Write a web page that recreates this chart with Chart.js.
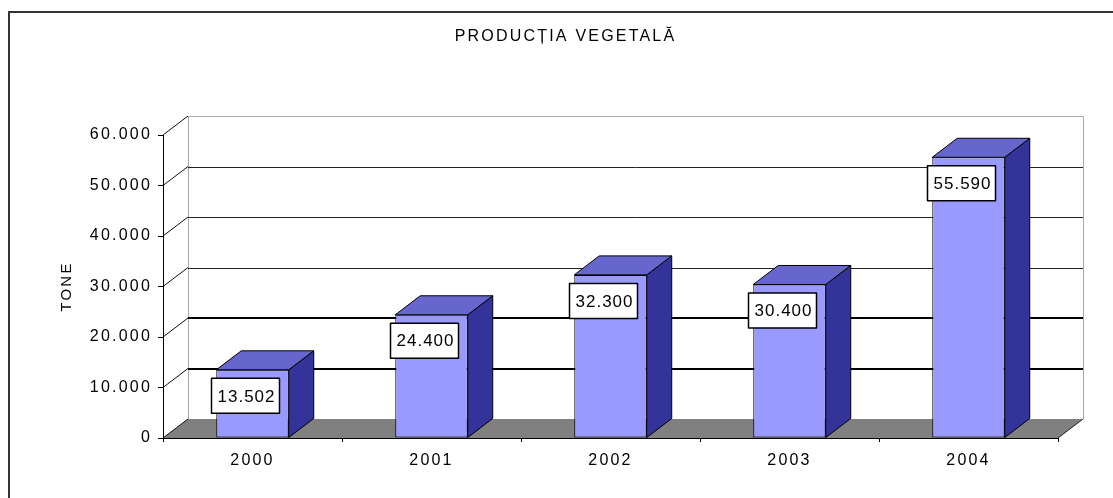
<!DOCTYPE html>
<html>
<head>
<meta charset="utf-8">
<script src="https://cdn.jsdelivr.net/npm/chart.js@4/dist/chart.umd.min.js"></script>
<style>
  html, body { margin: 0; padding: 0; background: #ffffff; }
  #wrap { width: 1113px; height: 498px; position: relative; }
</style>
</head>
<body>
<div id="wrap"><canvas id="c" width="1113" height="498"></canvas></div>
<script>
// ---- data ----
const categories = ['2000', '2001', '2002', '2003', '2004'];
const productie = [13502, 24400, 32300, 30400, 55590];
const yTicks = [0, 10000, 20000, 30000, 40000, 50000, 60000];
const chartTitle = 'PRODUCȚIA VEGETALĂ';
const yTitle = 'TONE';

// ---- style constants ----
const DX = 25, DY = -19;
const FRONT = '#9999FF', SIDE = '#333399', TOP = '#6666CC';
const FONT = "'Liberation Sans', Arial, sans-serif";

function fmt(n) {
  return String(n).replace(/\B(?=(\d{3})+(?!\d))/g, '.');
}

const spacingPlugin = {
  id: 'spacing',
  beforeDraw(chart) { chart.ctx.letterSpacing = '2.2px'; }
};

const backdropPlugin = {
  id: 'backdrop',
  beforeDraw(chart) {
    const ctx = chart.ctx;
    const { left, right } = chart.chartArea;
    const ys = chart.scales.y;
    const yTop = ys.getPixelForValue(yTicks[yTicks.length - 1]);
    const yBot = ys.getPixelForValue(0);
    ctx.save();
    ctx.fillStyle = '#ffffff';
    ctx.fillRect(0, 0, chart.width, chart.height);
    // outer frame
    ctx.strokeStyle = '#333333';
    ctx.lineWidth = 2;
    ctx.strokeRect(9, 12, chart.width + 20, chart.height + 20);
    // floor
    ctx.fillStyle = '#808080';
    ctx.beginPath();
    ctx.moveTo(left, yBot);
    ctx.lineTo(right, yBot);
    ctx.lineTo(right + DX, yBot + DY);
    ctx.lineTo(left + DX, yBot + DY);
    ctx.closePath();
    ctx.fill();
    ctx.strokeStyle = '#222';
    ctx.lineWidth = 1;
    ctx.beginPath();
    ctx.moveTo(right, yBot); ctx.lineTo(right + DX, yBot + DY);
    ctx.stroke();
    // wall edges
    ctx.strokeStyle = '#a8a8a8';
    ctx.lineWidth = 1;
    ctx.beginPath();
    ctx.moveTo(left + DX + 0.5, yBot + DY);
    ctx.lineTo(left + DX + 0.5, yTop + DY + 0.5);
    ctx.lineTo(right + DX + 0.5, yTop + DY + 0.5);
    ctx.lineTo(right + DX + 0.5, yBot + DY);
    ctx.stroke();
    // gridlines on back wall + connectors
    yTicks.forEach(v => {
      const y = ys.getPixelForValue(v);
      if (v > 0 && v < yTicks[yTicks.length - 1]) {
        const thick = v <= 20000;
        ctx.strokeStyle = thick ? '#000000' : '#222222';
        ctx.lineWidth = thick ? 2 : 1;
        const yy = thick ? Math.round(y + DY) : Math.round(y + DY) + 0.5;
        ctx.beginPath();
        ctx.moveTo(left + DX, yy);
        ctx.lineTo(right + DX, yy);
        ctx.stroke();
      }
      ctx.strokeStyle = '#111';
      ctx.lineWidth = 1;
      ctx.beginPath();
      ctx.moveTo(left, y);
      ctx.lineTo(left + DX, y + DY);
      ctx.stroke();
    });
    ctx.restore();
  }
};

const bar3dPlugin = {
  id: 'bar3d',
  afterDatasetsDraw(chart) {
    const ctx = chart.ctx;
    const meta = chart.getDatasetMeta(0);
    ctx.save();
    ctx.lineWidth = 1;
    ctx.strokeStyle = '#000';
    ctx.lineJoin = 'round';
    meta.data.forEach(bar => {
      const { x, y, base, width } = bar.getProps(['x', 'y', 'base', 'width'], true);
      const l = x - width / 2, r = x + width / 2;
      // side
      ctx.fillStyle = SIDE;
      ctx.beginPath();
      ctx.moveTo(r, y);
      ctx.lineTo(r + DX, y + DY);
      ctx.lineTo(r + DX, base + DY);
      ctx.lineTo(r, base);
      ctx.closePath();
      ctx.fill(); ctx.stroke();
      // top
      ctx.fillStyle = TOP;
      ctx.beginPath();
      ctx.moveTo(l, y);
      ctx.lineTo(l + DX, y + DY);
      ctx.lineTo(r + DX, y + DY);
      ctx.lineTo(r, y);
      ctx.closePath();
      ctx.fill(); ctx.stroke();
    });
    // value labels
    ctx.font = '17px ' + FONT;
    ctx.letterSpacing = '1px';
    ctx.textAlign = 'center';
    ctx.textBaseline = 'middle';
    meta.data.forEach((bar, i) => {
      const { x, y } = bar.getProps(['x', 'y'], true);
      const txt = fmt(productie[i]);
      const w = ctx.measureText(txt).width + 10;
      const h = 35;
      const cx = x - 7, cy = y + 26;
      ctx.fillStyle = '#ffffff';
      ctx.fillRect(cx - w / 2, cy - h / 2, w, h);
      ctx.strokeStyle = '#000';
      ctx.lineWidth = 1.5;
      ctx.strokeRect(cx - w / 2, cy - h / 2, w, h);
      ctx.fillStyle = '#000';
      ctx.fillText(txt, cx + 1, cy + 1);
    });
    ctx.restore();
  }
};

new Chart(document.getElementById('c'), {
  type: 'bar',
  data: {
    labels: categories,
    datasets: [{
      label: 'TONE',
      data: productie,
      backgroundColor: FRONT,
      borderColor: '#000000',
      borderWidth: 1,
      borderSkipped: false,
      categoryPercentage: 1.0,
      barPercentage: 0.405
    }]
  },
  options: {
    responsive: false,
    animation: false,
    devicePixelRatio: 1,
    layout: { padding: { left: 18, right: 0, top: 0, bottom: 0 } },
    plugins: {
      legend: { display: false },
      tooltip: { enabled: false },
      title: {
        display: true,
        text: chartTitle,
        color: '#000',
        font: { family: FONT, size: 16, weight: 'normal', lineHeight: 1.2 },
        padding: { top: 27, bottom: 88.8 }
      }
    },
    scales: {
      x: {
        offset: true,
        grid: { display: true, drawOnChartArea: false, drawTicks: true, tickLength: 4, color: '#000', offset: true },
        border: { display: true, color: '#000', width: 1 },
        ticks: { color: '#000', padding: 9, font: { family: FONT, size: 16 } },
        afterFit(scale) { scale.height = 60; }
      },
      y: {
        min: 0,
        max: 60000,
        grid: { display: true, drawOnChartArea: false, drawTicks: true, tickLength: 5, color: '#000' },
        border: { display: true, color: '#000', width: 1 },
        afterBuildTicks(scale) { scale.ticks = yTicks.map(v => ({ value: v })); },
        ticks: {
          color: '#000',
          padding: 6,
          font: { family: FONT, size: 16 },
          callback: v => fmt(v)
        },
        title: {
          display: true,
          text: yTitle,
          color: '#000',
          font: { family: FONT, size: 15, lineHeight: 1.2 },
          padding: { top: 40, bottom: 0 }
        },
        afterFit(scale) { scale.width = 145; }
      },
      y2: {
        position: 'right',
        display: true,
        min: 0,
        max: 1,
        grid: { display: false, drawTicks: false },
        border: { display: false },
        ticks: { display: false },
        afterFit(scale) { scale.width = 55; }
      }
    }
  },
  plugins: [backdropPlugin, spacingPlugin, bar3dPlugin]
});
</script>
</body>
</html>
